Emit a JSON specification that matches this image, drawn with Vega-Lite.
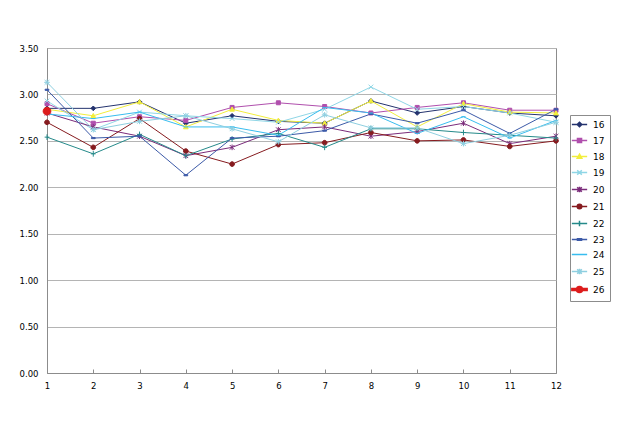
{
  "$schema": "https://vega.github.io/schema/vega-lite/v6.json",
  "width": 509,
  "height": 325,
  "autosize": {"type": "none"},
  "padding": {"left": 47, "top": 48, "right": 64, "bottom": 66},
  "background": "white",
  "config": {"view": {"stroke": "#8c8c8c"}, "font": "DejaVu Sans"},
  "datasets": {
    "d": [
      {"series": 16, "x": 1, "value": 2.85}, {"series": 16, "x": 2, "value": 2.85}, {"series": 16, "x": 3, "value": 2.92}, {"series": 16, "x": 4, "value": 2.69}, {"series": 16, "x": 5, "value": 2.77}, {"series": 16, "x": 6, "value": 2.71}, {"series": 16, "x": 7, "value": 2.69}, {"series": 16, "x": 8, "value": 2.93}, {"series": 16, "x": 9, "value": 2.80}, {"series": 16, "x": 10, "value": 2.87}, {"series": 16, "x": 11, "value": 2.80}, {"series": 16, "x": 12, "value": 2.77},
      {"series": 17, "x": 1, "value": 2.90}, {"series": 17, "x": 2, "value": 2.69}, {"series": 17, "x": 3, "value": 2.76}, {"series": 17, "x": 4, "value": 2.72}, {"series": 17, "x": 5, "value": 2.86}, {"series": 17, "x": 6, "value": 2.91}, {"series": 17, "x": 7, "value": 2.87}, {"series": 17, "x": 8, "value": 2.80}, {"series": 17, "x": 9, "value": 2.86}, {"series": 17, "x": 10, "value": 2.91}, {"series": 17, "x": 11, "value": 2.83}, {"series": 17, "x": 12, "value": 2.83},
      {"series": 18, "x": 1, "value": 2.84}, {"series": 18, "x": 2, "value": 2.77}, {"series": 18, "x": 3, "value": 2.92}, {"series": 18, "x": 4, "value": 2.65}, {"series": 18, "x": 5, "value": 2.84}, {"series": 18, "x": 6, "value": 2.72}, {"series": 18, "x": 7, "value": 2.69}, {"series": 18, "x": 8, "value": 2.93}, {"series": 18, "x": 9, "value": 2.65}, {"series": 18, "x": 10, "value": 2.90}, {"series": 18, "x": 11, "value": 2.81}, {"series": 18, "x": 12, "value": 2.80},
      {"series": 19, "x": 1, "value": 2.93}, {"series": 19, "x": 2, "value": 2.62}, {"series": 19, "x": 3, "value": 2.81}, {"series": 19, "x": 4, "value": 2.77}, {"series": 19, "x": 5, "value": 2.74}, {"series": 19, "x": 6, "value": 2.70}, {"series": 19, "x": 7, "value": 2.84}, {"series": 19, "x": 8, "value": 3.08}, {"series": 19, "x": 9, "value": 2.84}, {"series": 19, "x": 10, "value": 2.87}, {"series": 19, "x": 11, "value": 2.80}, {"series": 19, "x": 12, "value": 2.70},
      {"series": 20, "x": 1, "value": 2.80}, {"series": 20, "x": 2, "value": 2.65}, {"series": 20, "x": 3, "value": 2.55}, {"series": 20, "x": 4, "value": 2.34}, {"series": 20, "x": 5, "value": 2.43}, {"series": 20, "x": 6, "value": 2.62}, {"series": 20, "x": 7, "value": 2.65}, {"series": 20, "x": 8, "value": 2.55}, {"series": 20, "x": 9, "value": 2.60}, {"series": 20, "x": 10, "value": 2.69}, {"series": 20, "x": 11, "value": 2.47}, {"series": 20, "x": 12, "value": 2.55},
      {"series": 21, "x": 1, "value": 2.70}, {"series": 21, "x": 2, "value": 2.43}, {"series": 21, "x": 3, "value": 2.74}, {"series": 21, "x": 4, "value": 2.39}, {"series": 21, "x": 5, "value": 2.25}, {"series": 21, "x": 6, "value": 2.46}, {"series": 21, "x": 7, "value": 2.48}, {"series": 21, "x": 8, "value": 2.59}, {"series": 21, "x": 9, "value": 2.50}, {"series": 21, "x": 10, "value": 2.51}, {"series": 21, "x": 11, "value": 2.44}, {"series": 21, "x": 12, "value": 2.50},
      {"series": 22, "x": 1, "value": 2.54}, {"series": 22, "x": 2, "value": 2.36}, {"series": 22, "x": 3, "value": 2.57}, {"series": 22, "x": 4, "value": 2.34}, {"series": 22, "x": 5, "value": 2.52}, {"series": 22, "x": 6, "value": 2.58}, {"series": 22, "x": 7, "value": 2.43}, {"series": 22, "x": 8, "value": 2.63}, {"series": 22, "x": 9, "value": 2.63}, {"series": 22, "x": 10, "value": 2.59}, {"series": 22, "x": 11, "value": 2.56}, {"series": 22, "x": 12, "value": 2.53},
      {"series": 23, "x": 1, "value": 3.05}, {"series": 23, "x": 2, "value": 2.53}, {"series": 23, "x": 3, "value": 2.55}, {"series": 23, "x": 4, "value": 2.13}, {"series": 23, "x": 5, "value": 2.53}, {"series": 23, "x": 6, "value": 2.55}, {"series": 23, "x": 7, "value": 2.61}, {"series": 23, "x": 8, "value": 2.79}, {"series": 23, "x": 9, "value": 2.69}, {"series": 23, "x": 10, "value": 2.83}, {"series": 23, "x": 11, "value": 2.58}, {"series": 23, "x": 12, "value": 2.84},
      {"series": 24, "x": 1, "value": 2.79}, {"series": 24, "x": 2, "value": 2.74}, {"series": 24, "x": 3, "value": 2.81}, {"series": 24, "x": 4, "value": 2.65}, {"series": 24, "x": 5, "value": 2.65}, {"series": 24, "x": 6, "value": 2.56}, {"series": 24, "x": 7, "value": 2.86}, {"series": 24, "x": 8, "value": 2.80}, {"series": 24, "x": 9, "value": 2.58}, {"series": 24, "x": 10, "value": 2.76}, {"series": 24, "x": 11, "value": 2.53}, {"series": 24, "x": 12, "value": 2.72},
      {"series": 25, "x": 1, "value": 3.13}, {"series": 25, "x": 2, "value": 2.62}, {"series": 25, "x": 3, "value": 2.71}, {"series": 25, "x": 4, "value": 2.77}, {"series": 25, "x": 5, "value": 2.63}, {"series": 25, "x": 6, "value": 2.49}, {"series": 25, "x": 7, "value": 2.78}, {"series": 25, "x": 8, "value": 2.64}, {"series": 25, "x": 9, "value": 2.64}, {"series": 25, "x": 10, "value": 2.47}, {"series": 25, "x": 11, "value": 2.56}, {"series": 25, "x": 12, "value": 2.70},
      {"series": 26, "x": 1, "value": 2.82}
    ]
  },
  "data": {"name": "d"},
  "encoding": {
    "x": {
      "field": "x", "type": "quantitative",
      "scale": {"domain": [1, 12], "nice": false, "zero": false},
      "axis": {"values": [1, 2, 3, 4, 5, 6, 7, 8, 9, 10, 11, 12], "title": null, "grid": false, "labelFontSize": 8.5, "labelColor": "#000000", "domainColor": "#8c8c8c", "tickColor": "#8c8c8c", "tickSize": -4, "labelPadding": 12, "labelFlush": false}
    },
    "y": {
      "field": "value", "type": "quantitative",
      "scale": {"domain": [0, 3.5], "nice": false},
      "axis": {"values": [0, 0.5, 1, 1.5, 2, 2.5, 3, 3.5], "format": ".2f", "title": null, "grid": true, "gridColor": "#b4b4b4", "domainColor": "#8c8c8c", "ticks": false, "labelFontSize": 8.5, "labelColor": "#000000", "labelPadding": 9}
    }
  },
  "layer": [
    {
      "mark": {"type": "line", "clip": false},
      "encoding": {
        "color": {"field": "series", "type": "nominal", "scale": {"domain": [16, 17, 18, 19, 20, 21, 22, 23, 24, 25, 26], "range": ["#24336e", "#b04fad", "#f2ee3c", "#8fd6e6", "#7b2c7b", "#861b1f", "#258a8a", "#3c5aa8", "#38bdef", "#8ecfe0", "#dd1c1c"]}, "legend": null},
        "strokeWidth": {"condition": {"test": "datum.series === 26", "value": 3}, "value": 1}
      }
    },
    {
      "mark": {"type": "point", "filled": true, "opacity": 1, "strokeWidth": 1},
      "encoding": {
        "fill": {"field": "series", "type": "nominal", "scale": {"domain": [16, 17, 18, 19, 20, 21, 22, 23, 24, 25, 26], "range": ["#24336e", "#b04fad", "#f2ee3c", "#8fd6e6", "#7b2c7b", "#861b1f", "#258a8a", "#3c5aa8", "#38bdef", "#8ecfe0", "#dd1c1c"]}, "legend": null},
        "stroke": {"field": "series", "type": "nominal", "scale": {"domain": [16, 17, 18, 19, 20, 21, 22, 23, 24, 25, 26], "range": ["#24336e", "#b04fad", "#f2ee3c", "#8fd6e6", "#7b2c7b", "#861b1f", "#258a8a", "#3c5aa8", "#38bdef", "#8ecfe0", "#dd1c1c"]}, "legend": null},
        "shape": {"field": "series", "type": "nominal", "scale": {"domain": [16, 17, 18, 19, 20, 21, 22, 23, 24, 25, 26], "range": ["M0,-1L1,0L0,1L-1,0Z", "M-0.85,-0.85H0.85V0.85H-0.85Z", "M0,-1L1,0.8H-1Z", "M-1,-1L1,1M-1,1L1,-1", "M-1,-1L1,1M-1,1L1,-1M0,-1.2V1.2", "M1,0A1,1,0,1,1,-1,0A1,1,0,1,1,1,0Z", "M-1,0H1M0,-1.2V1.2", "M-0.8,-0.25H0.8V0.25H-0.8Z", "M-0.9,0H0.9", "M-1,-1L1,1M-1,1L1,-1M0,-1.2V1.2M-1.2,0H1.2", "M1,0A1,1,0,1,1,-1,0A1,1,0,1,1,1,0Z"]}, "legend": null},
        "size": {"condition": {"test": "datum.series === 26", "value": 60}, "value": 22}
      }
    },
    {
      "mark": {"type": "point", "filled": true, "opacity": 0, "size": 26, "strokeWidth": 1.5},
      "encoding": {
        "fill": {"field": "series", "type": "nominal", "scale": {"domain": [16, 17, 18, 19, 20, 21, 22, 23, 24, 25, 26], "range": ["#24336e", "#b04fad", "#f2ee3c", "#8fd6e6", "#7b2c7b", "#861b1f", "#258a8a", "#3c5aa8", "#38bdef", "#8ecfe0", "#dd1c1c"]},
          "legend": {"orient": "none", "legendX": 523, "legendY": 67, "title": null, "padding": 5, "strokeColor": "#8c8c8c", "fillColor": "#ffffff", "labelFontSize": 9, "labelColor": "#000000", "symbolSize": 26, "symbolStrokeWidth": 1.5, "symbolOpacity": 1, "rowPadding": 5, "labelOffset": 9, "cornerRadius": 0}},
        "stroke": {"field": "series", "type": "nominal", "scale": {"domain": [16, 17, 18, 19, 20, 21, 22, 23, 24, 25, 26], "range": ["#24336e", "#b04fad", "#f2ee3c", "#8fd6e6", "#7b2c7b", "#861b1f", "#258a8a", "#3c5aa8", "#38bdef", "#8ecfe0", "#dd1c1c"]},
          "legend": {"orient": "none", "legendX": 523, "legendY": 67, "title": null, "padding": 5, "strokeColor": "#8c8c8c", "fillColor": "#ffffff", "labelFontSize": 9, "labelColor": "#000000", "symbolSize": 26, "symbolStrokeWidth": 1.5, "symbolOpacity": 1, "rowPadding": 5, "labelOffset": 9, "cornerRadius": 0}},
        "shape": {"field": "series", "type": "nominal", "scale": {"domain": [16, 17, 18, 19, 20, 21, 22, 23, 24, 25, 26], "range": ["M-3,0H3M0,-0.9L0.9,0L0,0.9L-0.9,0Z", "M-3,0H3M-0.8,-0.8H0.8V0.8H-0.8Z", "M-3,0H3M0,-0.9L0.9,0.7H-0.9Z", "M-3,0H3M-0.9,-0.9L0.9,0.9M-0.9,0.9L0.9,-0.9", "M-3,0H3M-0.9,-0.9L0.9,0.9M-0.9,0.9L0.9,-0.9M0,-1.1V1.1", "M-3,0H3M0.9,0A0.9,0.9,0,1,1,-0.9,0A0.9,0.9,0,1,1,0.9,0Z", "M-3,0H3M0,-1.1V1.1", "M-3,0H3M-0.8,-0.25H0.8V0.25H-0.8Z", "M-3,0H3M-0.9,0H0.9", "M-3,0H3M-0.9,-0.9L0.9,0.9M-0.9,0.9L0.9,-0.9M0,-1.1V1.1", "M-3,-0.35H3V0.35H-3ZM1.2,0A1.2,1.2,0,1,1,-1.2,0A1.2,1.2,0,1,1,1.2,0Z"]},
          "legend": {"orient": "none", "legendX": 523, "legendY": 67, "title": null, "padding": 5, "strokeColor": "#8c8c8c", "fillColor": "#ffffff", "labelFontSize": 9, "labelColor": "#000000", "symbolSize": 26, "symbolStrokeWidth": 1.5, "symbolOpacity": 1, "rowPadding": 5, "labelOffset": 9, "cornerRadius": 0}}
      }
    }
  ],
  "resolve": {"scale": {"color": "independent", "fill": "independent", "stroke": "independent", "shape": "independent", "size": "independent", "strokeWidth": "independent"}}
}
